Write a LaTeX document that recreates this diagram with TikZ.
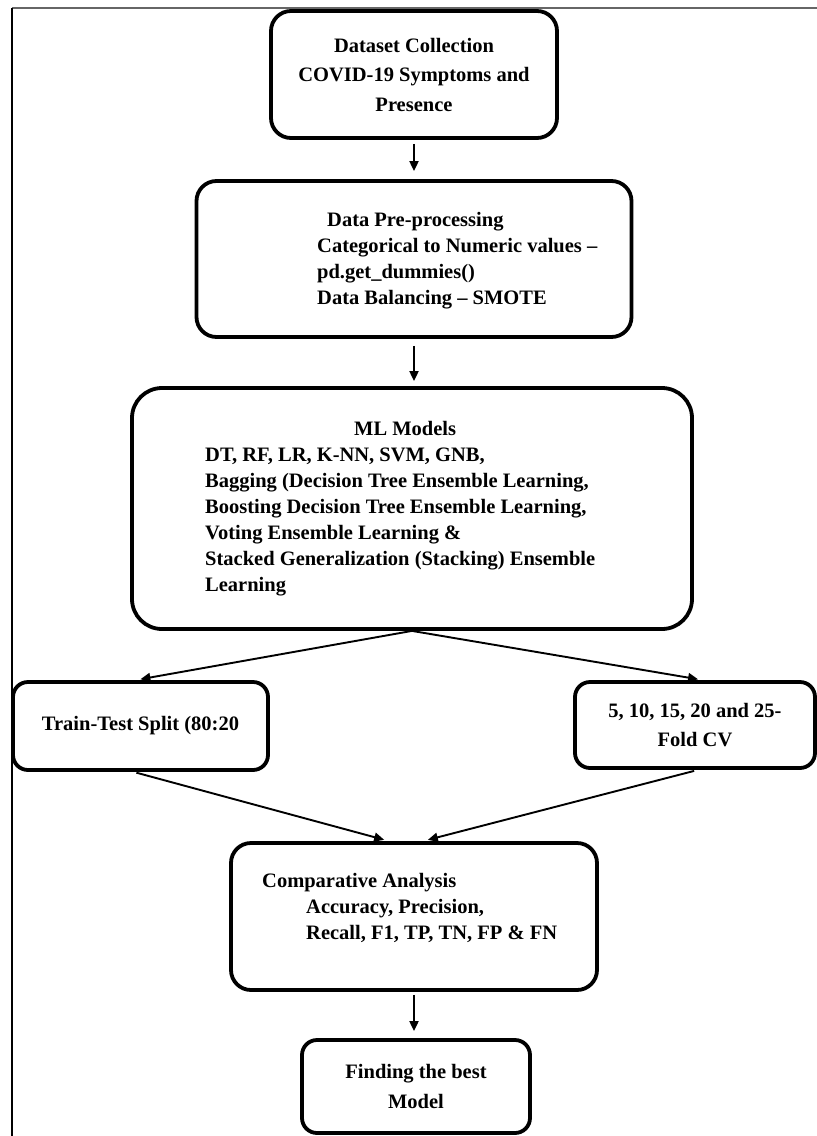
\documentclass[tikz,border=0pt]{standalone}
\usepackage{fontspec}
\setmainfont{Liberation Serif}
\usepackage{tikz}
\usetikzlibrary{arrows.meta}

\begin{document}
\begin{tikzpicture}[x=1pt,y=-1pt,
  box/.style={draw,line width=3.8pt,rounded corners=20pt,align=center,inner sep=0pt,
    font=\fontsize{20.5}{29.5}\selectfont\bfseries},
  boxtext/.style={align=left,inner sep=0pt,anchor=west,
    font=\fontsize{20.5}{26}\selectfont\bfseries},
  arr/.style={-{Triangle[length=10pt,width=9pt]},line width=1.9pt}]
\useasboundingbox (0,0) rectangle (817,1136);
% page frame, top and left only
\draw[gray!80!black,line width=1.5pt] (12,8) -- (817,8);
\draw[line width=1.5pt] (12,8) -- (12,1136);

\node[box,minimum width=286pt,minimum height=127pt] (collect) at (414,74.5)
  {Dataset Collection\\COVID-19 Symptoms and\\Presence};

\node[box,minimum width=435pt,minimum height=156pt] (prep) at (414,259) {};
\node[boxtext] (preptext) at (317,261)
  {\hspace*{10pt}Data Pre-processing\\Categorical to Numeric values –\\pd.get\_dummies()\\Data Balancing – SMOTE};

\node[box,rounded corners=30pt,minimum width=560pt,minimum height=241pt] (models) at (412,508.5) {};
\node[boxtext] (modeltext) at (205,508.5)
  {\hspace*{149pt}ML Models\\DT, RF, LR, K-NN, SVM, GNB,\\Bagging (Decision Tree Ensemble Learning,\\Boosting Decision Tree Ensemble Learning,\\Voting Ensemble Learning \&\\Stacked Generalization (Stacking) Ensemble\\Learning};

\node[box,rounded corners=15pt,minimum width=255pt,minimum height=88pt] (split) at (140.5,726)
  {Train-Test Split (80:20};
\node[box,rounded corners=15pt,minimum width=240pt,minimum height=86pt] (cv) at (695,725)
  {5, 10, 15, 20 and 25-\\Fold CV};

\node[box,minimum width=366pt,minimum height=147pt] (compare) at (414,916.5) {};
\node[boxtext] (comparetext) at (262,907.5)
  {Comparative Analysis\\\hspace*{44pt}Accuracy, Precision,\\\hspace*{44pt}Recall, F1, TP, TN, FP \& FN};

\node[box,rounded corners=15pt,minimum width=228pt,minimum height=93pt] (best) at (416,1086.5)
  {Finding the best\\Model};

% connectors
\draw[arr,shorten <=4pt,shorten >=8pt] (collect.south) -- (collect.south |- prep.north);
\draw[arr,shorten <=7pt,shorten >=5pt] (prep.south) -- (prep.south |- models.north);
\draw[arr,shorten >=5pt] (models.south) -- ([xshift=-5pt]split.north);
\draw[arr,shorten >=5pt] (models.south) -- ([xshift=8pt]cv.north);
\draw[arr,shorten <=3pt,shorten >=5pt] ([xshift=-7pt]split.south) -- ([xshift=-25pt]compare.north);
\draw[arr,shorten <=4pt,shorten >=5pt] ([xshift=3pt]cv.south) -- ([xshift=9pt]compare.north);
\draw[arr,shorten <=3pt,shorten >=7pt] (compare.south) -- (compare.south |- best.north);
\end{tikzpicture}
\end{document}
